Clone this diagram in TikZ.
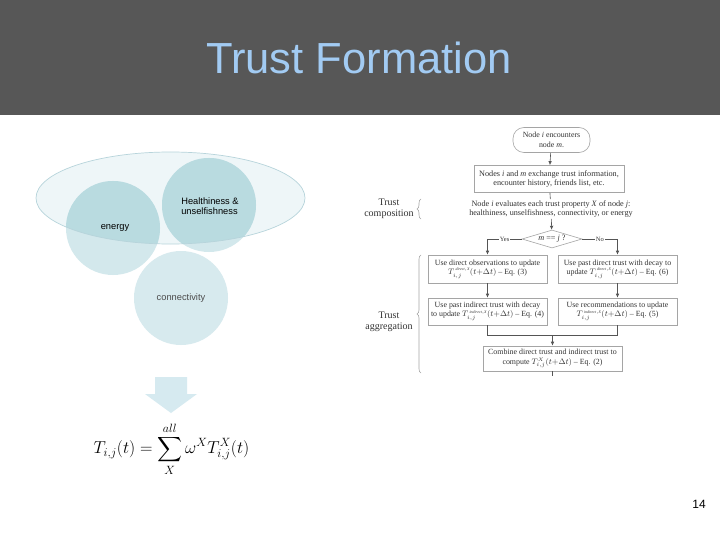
\documentclass[tikz,border=0pt]{standalone}
\usepackage{amsmath}
\usepackage{fontspec}
\setmainfont{Liberation Serif}
\newfontfamily\arial{Liberation Sans}
\usetikzlibrary{arrows.meta,shapes.geometric,decorations.pathreplacing}
\definecolor{titlebg}{HTML}{575757}
\definecolor{titlefg}{HTML}{A2CBF3}
\definecolor{circlight}{HTML}{D3E8EC}
\definecolor{circdark}{HTML}{B9DBE0}
\definecolor{ellfill}{HTML}{EEF6F8}
\definecolor{ellline}{HTML}{B7D4DB}
\definecolor{arrowfill}{HTML}{D6EAF0}
\definecolor{fctext}{HTML}{333333}
\definecolor{fcline}{HTML}{555555}
\definecolor{fcbox}{HTML}{A5A5A5}
\tikzset{
  fcbox/.style={draw=fcbox, line width=0.6pt, fill=white, align=center, text=fctext,
     font=\fontsize{7.9}{9.4}\selectfont, inner sep=1pt},
  fcarrow/.style={draw=fcline, line width=0.6pt, -{Latex[length=4pt,width=3.6pt]}},
  fcline/.style={draw=fcline, line width=0.6pt},
  sidelabel/.style={align=center, text=fctext, font=\fontsize{10}{11.5}\selectfont},
  bracestyle/.style={draw=fcbox, line width=0.6pt, decorate, decoration={brace, amplitude=4pt}},
  circlabel/.style={font=\arial\fontsize{9.3}{10}\selectfont, align=left}
}
\newcommand\Tv[1]{$T_{i,j}^{\,\scriptscriptstyle\mathit{#1}}(t{+}\Delta t)$}
\begin{document}
\begin{tikzpicture}[x=1pt,y=-1pt]
\useasboundingbox (0,0) rectangle (720,540);
\fill[white] (0,0) rectangle (720,540);
% title bar
\fill[titlebg] (0,0) rectangle (720,115);
\node[text=titlefg, font=\arial\fontsize{43.5}{50}\selectfont] (title) at (359,58) {Trust Formation};

% Venn-like circles
\fill[ellfill] (170.5,198) ellipse[x radius=134.5, y radius=46];
\fill[circlight] (113,228) circle[radius=47];
\fill[circlight] (209,205) circle[radius=47];
\fill[circlight!90!white] (181,298) circle[radius=47];
\begin{scope}
  \clip (170.5,198) ellipse[x radius=134.5, y radius=46];
  \fill[circdark] (113,228) circle[radius=47];
  \fill[circdark] (209,205) circle[radius=47];
\end{scope}
\draw[ellline, line width=0.7pt] (170.5,198) ellipse[x radius=134.5, y radius=46];
\node[circlabel] (health) at (210,206) {Healthiness \&\\unselfishness};
\node[circlabel] (energy) at (115,228) {energy};
\node[circlabel, text=black!70] (conn) at (181,298) {connectivity};

% block arrow
\fill[arrowfill] (155,377) -- (187,377) -- (187,394) -- (197,394) -- (171,413) -- (145,394) -- (155,394) -- cycle;

% equation
\node[font=\fontsize{18}{22}\selectfont] (eq) at (171.5,449) {$\displaystyle T_{i,j}(t)=\sum_{X}^{all}\omega^{X}T_{i,j}^{X}(t)$};

% flowchart
\node[fcbox, rounded corners=11pt, minimum width=77pt, minimum height=25pt] (start) at (551.5,140) {Node \textit{i} encounters\\node \textit{m}.};
\node[fcbox, minimum width=150pt, minimum height=27pt, font=\fontsize{8.2}{9.6}\selectfont] (exch) at (549,179) {Nodes \textit{i} and \textit{m} exchange trust information,\\encounter history, friends list, etc.};
\node[align=center, text=fctext, font=\fontsize{8.2}{9.6}\selectfont, inner sep=1pt] (eval) at (551,209) {Node \textit{i} evaluates each trust property \textit{X} of node \textit{j}:\\healthiness, unselfishness, connectivity, or energy};
\node[draw=fcbox, line width=0.6pt, diamond, aspect=3.3, inner sep=0.5pt, minimum width=60pt, minimum height=18pt, text=fctext, font=\fontsize{8.2}{9.6}\selectfont] (dec) at (552,239) {\textit{m} == \textit{j} ?};
\node[fcbox, minimum width=119pt, minimum height=28pt] (b1) at (487.5,269) {Use direct observations to update\\\Tv{direct,X} -- Eq. (3)};
\node[fcbox, minimum width=119pt, minimum height=28pt] (b2) at (617.5,269) {Use past direct trust with decay to\\update \Tv{direct,X} -- Eq. (6)};
\node[fcbox, minimum width=119pt, minimum height=27pt] (b3) at (487.5,311.5) {Use past indirect trust with decay\\to update \Tv{indirect,X} -- Eq. (4)};
\node[fcbox, minimum width=119pt, minimum height=27pt] (b4) at (617.5,311.5) {Use recommendations to update\\\Tv{indirect,X} -- Eq. (5)};
\node[fcbox, minimum width=139pt, minimum height=25pt] (b5) at (552.5,358.5) {Combine direct trust and indirect trust to\\compute $T_{i,j}^{\scriptscriptstyle X}(t{+}\Delta t)$ -- Eq. (2)};

\coordinate (yesc) at (487.5,239);
\coordinate (noc) at (617.5,239);
\coordinate (m3) at (487.5,335);
\coordinate (m4) at (617.5,335);
\coordinate (mm) at (552.5,335);
\coordinate (tail) at (552.5,376);

\draw[fcarrow] (start) -- (exch);
\draw[fcline] (exch) -- (eval);
\draw[fcarrow] (eval) -- (dec);
\draw[fcline] (dec.west) -- node[fill=white, inner sep=1pt, text=fctext, font=\fontsize{6.5}{7}\selectfont] (yes) {Yes} (yesc);
\draw[fcarrow] (yesc) -- (b1);
\draw[fcline] (dec.east) -- node[fill=white, inner sep=1pt, text=fctext, font=\fontsize{6.5}{7}\selectfont] (no) {No} (noc);
\draw[fcarrow] (noc) -- (b2);
\draw[fcarrow] (b1) -- (b3);
\draw[fcarrow] (b2) -- (b4);
\draw[fcline] (b3.south) -- (m3) -- (m4) -- (b4.south);
\draw[fcarrow] (mm) -- (b5);
\draw[fcline] (b5) -- (tail);

% side labels
\node[sidelabel] (comp) at (389,209) {Trust\\composition};
\node[sidelabel] (aggr) at (389,322) {Trust\\aggregation};
\draw[bracestyle] (421,219) -- (421,199);
\draw[bracestyle] (421,373) -- (421,255);

% page number
\node[font=\arial\fontsize{12}{14}\selectfont] (pnum) at (699,504) {14};
\end{tikzpicture}
\end{document}
